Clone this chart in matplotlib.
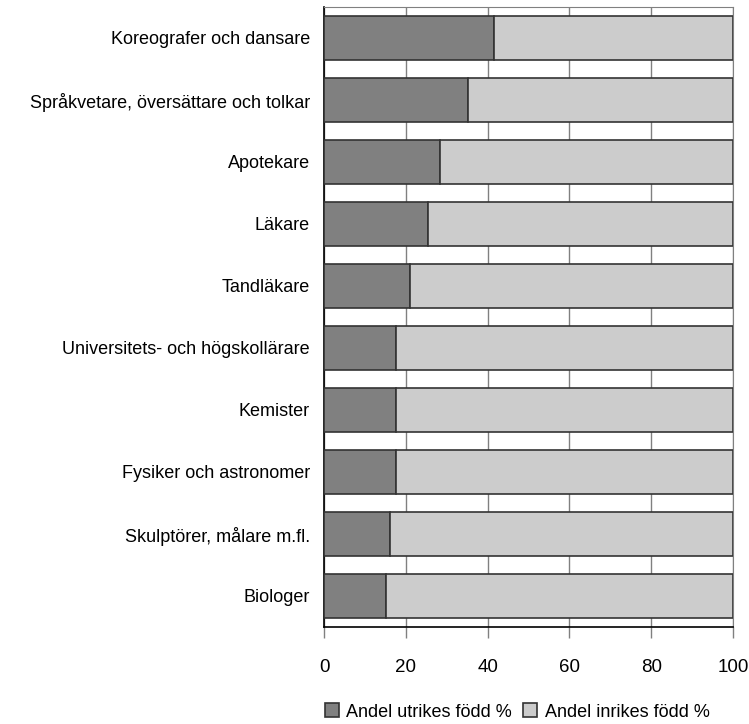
import matplotlib.pyplot as plt
import numpy as np

plt.rcParams['font.family'] = ['Liberation Sans', 'DejaVu Sans']

yrken = ['Koreografer och dansare', 'Språkvetare, översättare och tolkar',
         'Apotekare', 'Läkare', 'Tandläkare', 'Universitets- och högskollärare',
         'Kemister', 'Fysiker och astronomer', 'Skulptörer, målare m.fl.',
         'Biologer']
utrikes = [41.5, 35.1, 28.3, 25.4, 21.0, 17.6, 17.6, 17.6, 16.1, 15.1]
inrikes = [100 - u for u in utrikes]
ticks = [0, 20, 40, 60, 80, 100]

fig = plt.figure(figsize=(7.49, 7.24), dpi=100)
ax = fig.add_axes([324 / 749, 1 - 627 / 724, 409 / 749, 620 / 724])

pos = np.arange(len(yrken))
ax.barh(pos, utrikes, height=0.71, color='#808080', edgecolor='#333333',
        linewidth=1.2, label='Andel utrikes född %', zorder=3)
ax.barh(pos, inrikes, left=utrikes, height=0.71, color='#cccccc',
        edgecolor='#333333', linewidth=1.2, label='Andel inrikes född %', zorder=3)

ax.set_xlim(0, 100)
ax.set_ylim(len(yrken) - 0.5, -0.5)
ax.set_yticks(pos)
ax.set_yticklabels(yrken, fontsize=13)
ax.set_xticks(ticks)
ax.set_xticklabels([str(t) for t in ticks], fontsize=13.5)
ax.tick_params(axis='y', length=0, pad=10)
ax.tick_params(axis='x', direction='out', length=8, width=1, color='#808080', pad=15)
ax.xaxis.grid(True, color='#808080', linewidth=1, zorder=0)

for side in ['top', 'right']:
    ax.spines[side].set_color('#808080')
ax.spines['left'].set_color('black')
ax.spines['bottom'].set_color('black')
ax.spines['left'].set_linewidth(1.2)
ax.spines['bottom'].set_linewidth(1.2)

fig.legend(loc='center', bbox_to_anchor=(517 / 749, 1 - 712 / 724), ncol=2,
           frameon=False, fontsize=13, handlelength=0.8, handleheight=0.8,
           handletextpad=0.4, columnspacing=0.6, borderaxespad=0)

fig.savefig('out.png', dpi=100)
